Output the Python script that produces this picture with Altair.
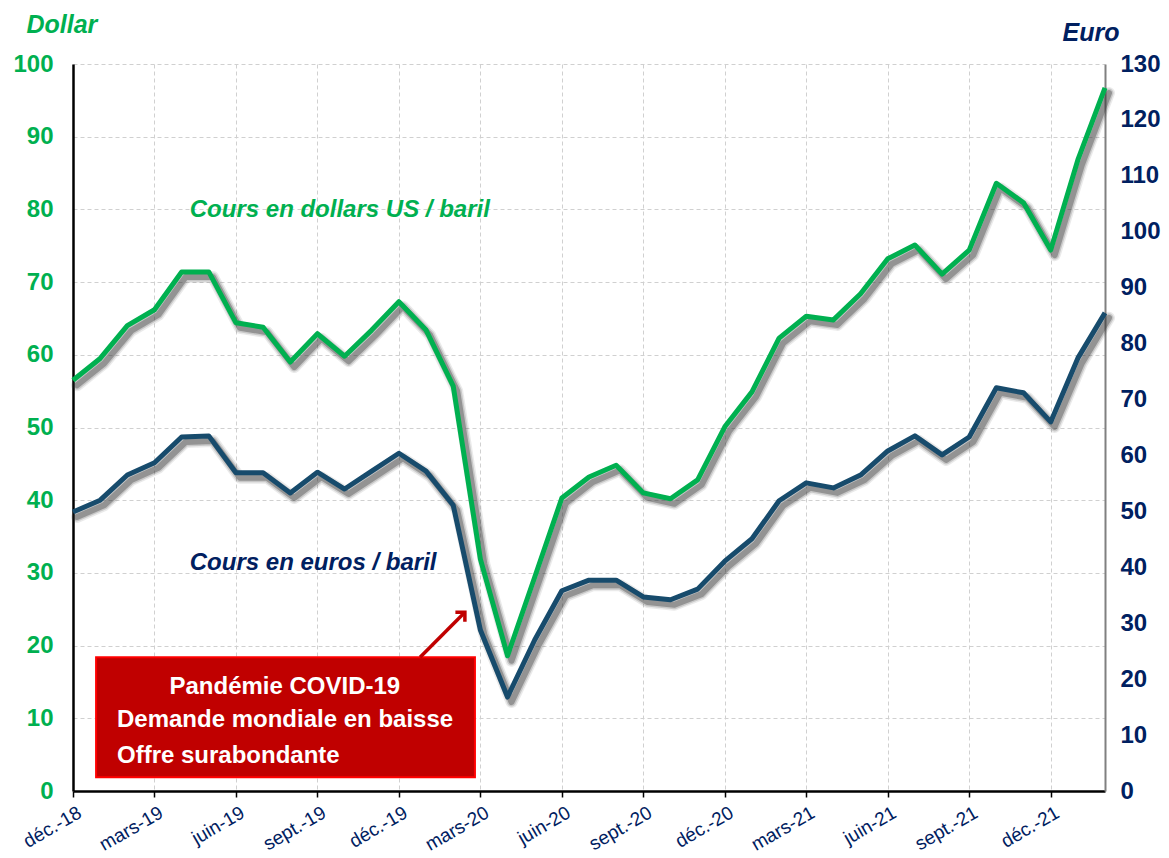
import json
import altair as alt
import pandas as pd

months = ["déc.-18", "janv.-19", "févr.-19", "mars-19", "avr.-19", "mai-19", "juin-19",
          "juil.-19", "août-19", "sept.-19", "oct.-19", "nov.-19", "déc.-19", "janv.-20",
          "févr.-20", "mars-20", "avr.-20", "mai-20", "juin-20", "juil.-20", "août-20",
          "sept.-20", "oct.-20", "nov.-20", "déc.-20", "janv.-21", "févr.-21", "mars-21",
          "avr.-21", "mai-21", "juin-21", "juil.-21", "août-21", "sept.-21", "oct.-21",
          "nov.-21", "déc.-21", "janv.-22", "févr.-22"]

dollar = [56.5, 59.5, 64.0, 66.2, 71.4, 71.4, 64.4, 63.8, 59.0, 62.9, 59.8, 63.4, 67.3,
          63.4, 55.7, 31.9, 18.6, 29.4, 40.3, 43.2, 44.8, 41.0, 40.2, 42.8, 50.1, 54.9,
          62.3, 65.3, 64.8, 68.4, 73.2, 75.1, 71.1, 74.4, 83.6, 80.9, 74.4, 86.8, 96.7]

euro = [49.9, 52.0, 56.5, 58.7, 63.3, 63.5, 56.9, 56.9, 53.3, 57.0, 54.0, 57.2, 60.4,
        57.2, 51.1, 28.8, 16.8, 27.0, 35.8, 37.7, 37.7, 34.7, 34.2, 36.1, 41.1, 45.1,
        51.9, 55.1, 54.2, 56.5, 60.8, 63.5, 60.1, 63.3, 72.1, 71.2, 66.0, 77.4, 85.5]

tick_idx = list(range(0, 37, 3))
dollar_ticks = list(range(0, 101, 10))
euro_ticks = list(range(0, 131, 10))

box_lines = ["Pandémie COVID-19", "Demande mondiale en baisse", "Offre surabondante"]
label_dollar = "Cours en dollars US / baril"
label_euro = "Cours en euros / baril"

FONT = "Liberation Sans"
GREEN = "#00b050"
NAVY = "#002060"
BLUE = "#174b6c"
RED = "#c00000"

df = pd.DataFrame({"idx": list(range(len(months))), "mois": months,
                   "dollar": dollar, "euro": euro})

label_expr = json.dumps(months, ensure_ascii=False) + "[datum.value]"

x_scale = alt.Scale(domain=[0, len(months) - 1], nice=False, zero=False)
yd_scale = alt.Scale(domain=[0, 100], nice=False, zero=True)
ye_scale = alt.Scale(domain=[0, 130], nice=False, zero=True)

AX = alt.Axis(values=tick_idx, labelExpr=label_expr, title="",
              labelAngle=-30, labelAlign="right", labelBaseline="top",
              labelFont=FONT, labelFontSize=19, labelColor=NAVY,
              labelPadding=6, labelOffset=2, labelOverlap=False,
              domainColor="black", domainWidth=2.5,
              tickColor="black", tickWidth=1.5, tickSize=6,
              grid=True, gridColor="#d0d0d0", gridDash=[4, 3], gridWidth=1)

AYD = alt.Axis(values=dollar_ticks, title="Dollar", titleAngle=0,
               titleX=-47, titleY=-40, titleAlign="left", titleBaseline="middle",
               titleFont=FONT, titleFontSize=25, titleFontStyle="italic",
               titleFontWeight="bold", titleColor=GREEN,
               labelFont=FONT, labelFontSize=24, labelFontWeight="bold",
               labelColor=GREEN, labelPadding=20, ticks=False,
               domainColor="black", domainWidth=2.5,
               grid=True, gridColor="#d0d0d0", gridDash=[4, 3], gridWidth=1)

AYE = alt.Axis(orient="right", values=euro_ticks, title="Euro", titleAngle=0,
               titleX=-43, titleY=-32, titleAlign="left", titleBaseline="middle",
               titleFont=FONT, titleFontSize=25, titleFontStyle="italic",
               titleFontWeight="bold", titleColor=NAVY,
               labelFont=FONT, labelFontSize=24, labelFontWeight="bold",
               labelColor=NAVY, labelPadding=15, ticks=False,
               domainColor="#808080", domainWidth=2, grid=False)


def X(field):
    return alt.X(f"{field}:Q", scale=x_scale, axis=AX)


def YD(field):
    return alt.Y(f"{field}:Q", scale=yd_scale, axis=AYD)


def YE(field):
    return alt.Y(f"{field}:Q", scale=ye_scale, axis=AYE)


base = alt.Chart(df)


def shadow(field, yfun):
    layers = []
    for w, op in [(12, 0.10), (9, 0.18), (6, 0.35)]:
        layers.append(base.mark_line(color="#303030", strokeWidth=w, opacity=op,
                                     xOffset=4, yOffset=5, strokeJoin="round", strokeCap="round")
                      .encode(x=X("idx"), y=yfun(field)))
    return layers


dollar_line = base.mark_line(color=GREEN, strokeWidth=5, strokeJoin="round").encode(
    x=X("idx"), y=YD("dollar"))

euro_line = base.mark_line(color=BLUE, strokeWidth=5, strokeJoin="round").encode(
    x=X("idx"), y=YE("euro"))

# annotations (dollar scale)
ann_text = pd.DataFrame({"x": [4.3, 4.3], "y": [79.9, 31.4], "t": [label_dollar, label_euro],
                         "c": [GREEN, NAVY]})
ann = alt.Chart(ann_text).mark_text(font=FONT, fontSize=24, fontStyle="italic",
                                    fontWeight="bold", align="left", baseline="middle").encode(
    x=X("x"), y=YD("y"), text="t:N", color=alt.Color("c:N", scale=None))

box_df = pd.DataFrame({"x": [0.85], "x2": [14.8], "y": [18.4], "y2": [1.9]})
box = alt.Chart(box_df).mark_rect(fill=RED, stroke="#ff0000", strokeWidth=2).encode(
    x=X("x"), x2="x2:Q", y=YD("y"), y2="y2:Q")

box_t1 = alt.Chart(pd.DataFrame({"x": [7.8], "y": [14.3], "t": [box_lines[0]]})).mark_text(
    font=FONT, fontSize=24, fontWeight="bold", color="white", align="center", baseline="middle"
).encode(x=X("x"), y=YD("y"), text="t:N")

box_t2 = alt.Chart(pd.DataFrame({"x": [1.62, 1.62], "y": [9.8, 4.8], "t": box_lines[1:]})).mark_text(
    font=FONT, fontSize=24, fontWeight="bold", color="white", align="left", baseline="middle"
).encode(x=X("x"), y=YD("y"), text="t:N")

arrow_df = pd.DataFrame({"x": [12.78], "y": [18.4], "x2": [14.43], "y2": [24.6]})
arrow_line = alt.Chart(arrow_df).mark_rule(color=RED, strokeWidth=3.5).encode(
    x=X("x"), x2="x2:Q", y=YD("y"), y2="y2:Q")
arrow_head = alt.Chart(arrow_df).mark_point(
    shape="M -1 1 L 0 0 L 1 1", filled=False, color=RED, strokeWidth=3.5, size=180, angle=45,
    opacity=1).encode(x=X("x2"), y=YD("y2"))

dollar_group = alt.layer(*shadow("dollar", YD), dollar_line, ann, box, box_t1, box_t2,
                         arrow_line, arrow_head)
euro_group = alt.layer(*shadow("euro", YE), euro_line)

chart = alt.layer(dollar_group, euro_group).resolve_scale(y="independent").properties(
    width=1032, height=727,
    padding={"left": 65, "top": 56, "right": 56, "bottom": 67},
    autosize=alt.AutoSizeParams(type="none"),
).configure_view(stroke=None)

chart.save("out.html", embed_options={"renderer": "svg", "actions": False})
